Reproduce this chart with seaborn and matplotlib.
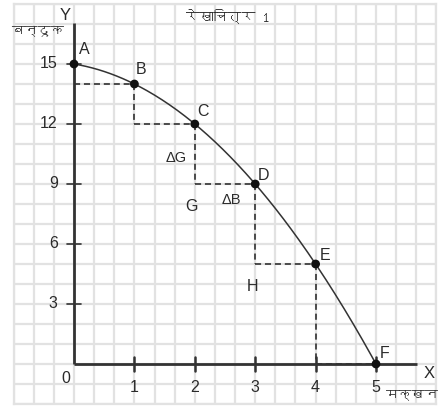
import numpy as np
import pandas as pd
import matplotlib
matplotlib.use("Agg")
import matplotlib.pyplot as plt
import seaborn as sns
from matplotlib import font_manager, ft2font

# ---- data ----
point_labels = ["A", "B", "C", "D", "E", "F"]
butter = [0, 1, 2, 3, 4, 5]          # मक्खन (X)
guns = [15, 14, 12, 9, 5, 0]         # बन्दूक (Y)
x_ticks = [1, 2, 3, 4, 5]
y_ticks = [3, 6, 9, 12, 15]
title = "रेखाचित्र 1"
x_name = "मक्खन"
y_name = "बन्दूक"

sns.set_theme(style="white")

def find_family(ch):
    for f in font_manager.fontManager.ttflist:
        try:
            ft = ft2font.FT2Font(f.fname)
            if ft.get_char_index(ord(ch)):
                return f.name
        except Exception:
            pass
    return None

dev = find_family("क")
fams = ["Liberation Sans", "DejaVu Sans"]
dev_fams = ([dev] if dev else []) + fams
plt.rcParams["font.family"] = fams

W, H = 445, 408
fig = plt.figure(figsize=(W / 100, H / 100), dpi=100)
# axes covering grid area: x in [-1,6] -> px 13.6..436.4 ; y in [-2,18] -> px 404..4
ax = fig.add_axes([13.6 / W, (H - 404) / H, 422.8 / W, 400 / H])
ax.set_xlim(-1, 6)
ax.set_ylim(-2, 18)
ax.set_xticks(np.arange(-1, 6.01, 1 / 3))
ax.set_yticks(np.arange(-2, 18.01, 1))
ax.tick_params(length=0, labelbottom=False, labelleft=False)
ax.grid(True, color="#e2e2e2", lw=1.6)
for s in ax.spines.values():
    s.set_color("#e2e2e2")
    s.set_linewidth(1.6)
ax.set_facecolor("white")

axc = "#333333"
tc = "#2a2a2a"
# axes arms
ax.plot([0, 0], [0, 17.05], color=axc, lw=2, solid_capstyle="butt", zorder=3)
ax.plot([0, 5.68], [0, 0], color=axc, lw=2, solid_capstyle="butt", zorder=3)
for t in x_ticks:
    ax.plot([t, t], [-0.35, 0.35], color=axc, lw=1.8, zorder=3)
    ax.text(t, -0.8, str(t), ha="center", va="top", fontsize=11.5, color=tc)
for t in y_ticks:
    ax.plot([-0.12, 0.12], [t, t], color=axc, lw=1.2, zorder=3)
    ax.text(-0.27, t, str(t), ha="right", va="center", fontsize=11.5, color=tc)
ax.text(-0.13, -0.35, "0", ha="center", va="top", fontsize=11.5, color=tc)

# dashed step lines
df = pd.DataFrame({"x": butter, "y": guns, "label": point_labels})
dkw = dict(color="#222222", lw=1.1, ls=(0, (4, 2.5)), zorder=2)
ax.plot([0, butter[1]], [guns[1], guns[1]], **dkw)
for i in range(1, len(butter) - 1):
    ax.plot([butter[i], butter[i]], [guns[i], guns[i + 1]], **dkw)
    ax.plot([butter[i], butter[i + 1]], [guns[i + 1], guns[i + 1]], **dkw)

# smooth curve through the points (exact quadratic fit of the data)
coef = np.polyfit(butter, guns, 2)
xs = np.linspace(min(butter), max(butter), 200)
curve = pd.DataFrame({"x": xs, "y": np.polyval(coef, xs)})
sns.lineplot(data=curve, x="x", y="y", ax=ax, color="#333333", lw=1.1, zorder=4)
sns.scatterplot(data=df, x="x", y="y", ax=ax, color="#111111", s=40, edgecolor="none", zorder=5)
ax.set_xlabel("")
ax.set_ylabel("")

# point labels
offs = {"A": (0.08, 0.7), "B": (0.03, 0.7), "C": (0.04, 0.6), "D": (0.05, 0.4), "E": (0.07, 0.45), "F": (0.07, 0.55)}
for _, r in df.iterrows():
    dx, dy = offs[r["label"]]
    ax.text(r["x"] + dx, r["y"] + dy, r["label"], ha="left", va="center", fontsize=11.5, color=tc)

ax.text(1.95, 8.25, "G", ha="center", va="top", fontsize=11.5, color=tc)
ax.text(2.95, 4.25, "H", ha="center", va="top", fontsize=11.5, color=tc)
ax.text(1.7, 10.3, "ΔG", ha="center", va="center", fontsize=10.5, color=tc)
ax.text(2.6, 8.2, "ΔB", ha="center", va="center", fontsize=10.5, color=tc)

ax.text(-0.15, 17.45, "Y", ha="center", va="center", fontsize=12, color=tc)
ax.text(5.97, -0.5, "X", ha="right", va="center", fontsize=12, color=tc)
ax.text(2.55, 17.4, title, ha="center", va="center", fontsize=10, color=tc, family=dev_fams)
ax.text(-0.6, 16.7, y_name, ha="center", va="center", fontsize=9.5, color=tc, family=dev_fams)
ax.text(5.6, -1.5, x_name, ha="center", va="center", fontsize=9.5, color=tc, family=dev_fams)

fig.savefig("out.png", dpi=100)
